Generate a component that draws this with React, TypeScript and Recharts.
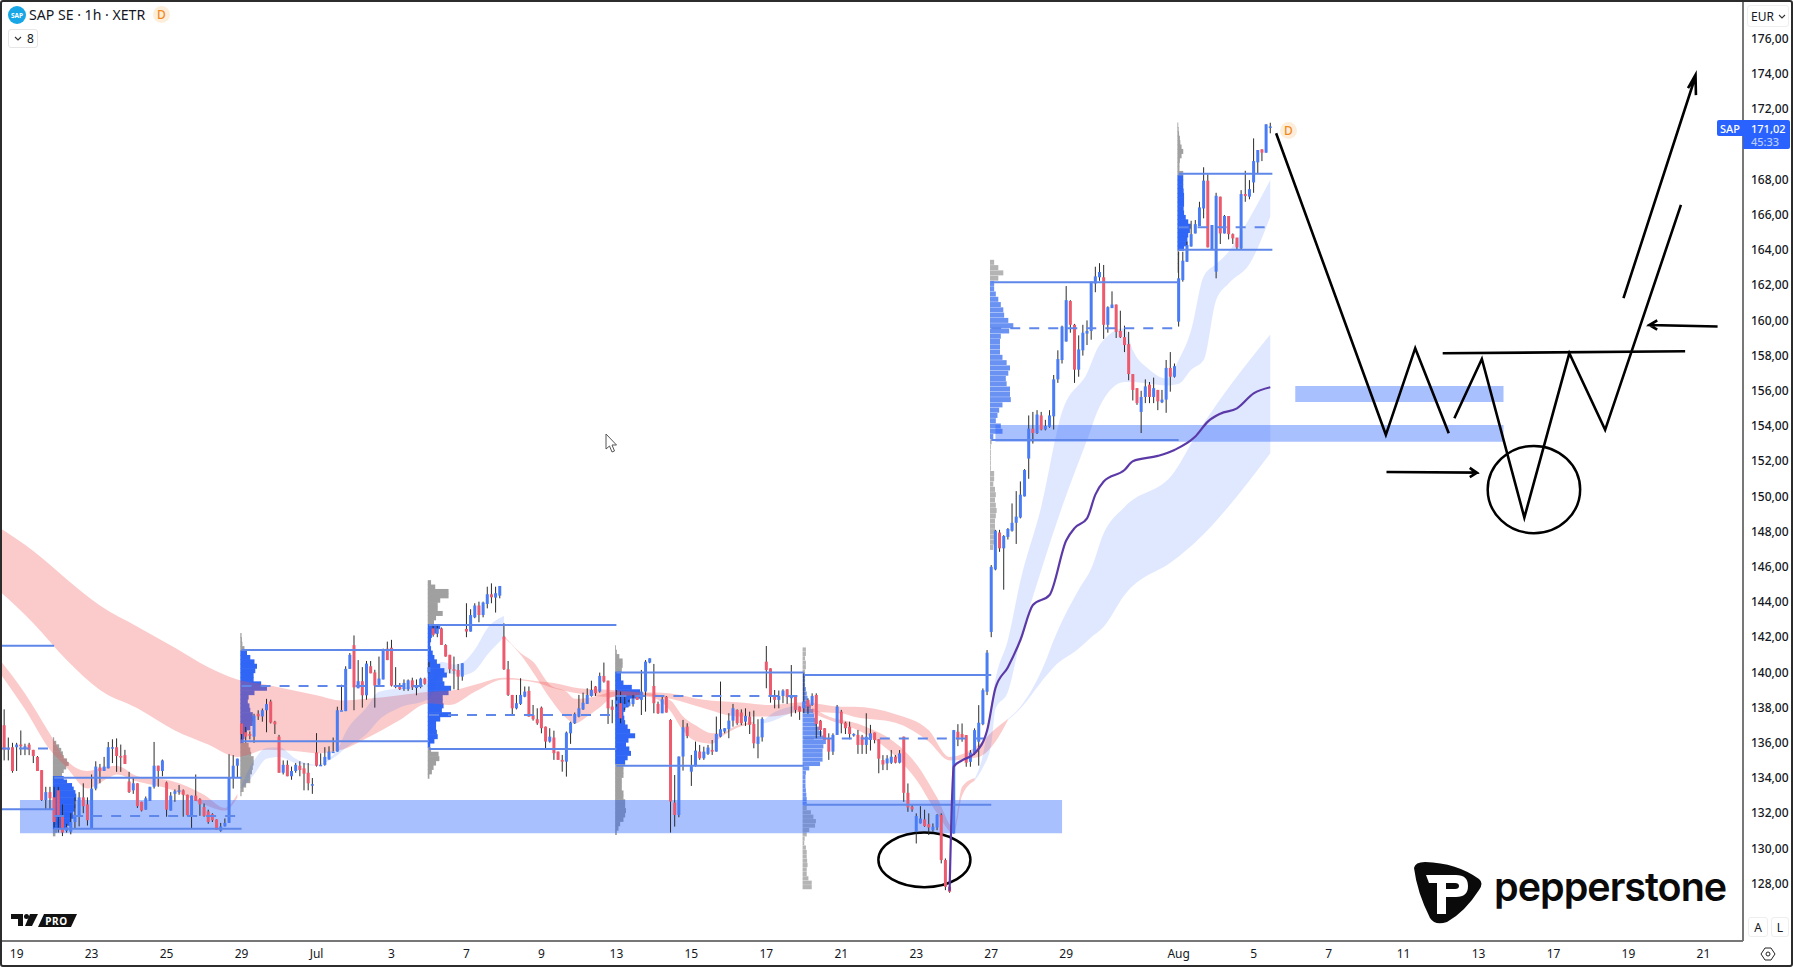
import { Area, Bar, ComposedChart, Line, ReferenceArea, ReferenceLine, XAxis, YAxis } from 'recharts'

type Ohlc = [number, number, number, number]

// open, high, low, close per hourly bar, one list per trading week
const preBars: Ohlc[] = [
  [137, 137.9, 135, 135.6], [135.7, 136.3, 135, 135.7], [135.75, 136, 134.3, 134.4], [135.75, 136, 134.4, 135.9],
  [135.9, 136.7, 135.3, 135.8], [135.7, 135.95, 135.3, 135.8], [135.9, 136, 135.3, 135.6], [135.6, 135.6, 134.85, 135.25],
  [135.2, 135.25, 134.4, 134.4], [134.45, 134.45, 132.7, 132.75], [132.75, 133.5, 132.2, 133.2], [133.2, 133.5, 132.2, 132.85],
]
const week1Bars: Ohlc[] = [
  [132.9, 133.5, 131.2, 131.5], [133.3, 133.5, 130.9, 131.8], [131.8, 132.5, 130.7, 130.9], [131, 131.4, 130.9, 131.2],
  [130.95, 132, 130.8, 131.5], [131.5, 132.9, 131.15, 131.8], [131.8, 133.2, 131.25, 132.9], [132.9, 133.7, 132, 132.4],
  [132.5, 132.9, 131.3, 131.6], [131.15, 134.2, 131.15, 133.4], [133.4, 134.95, 133.3, 134.65], [134.6, 134.8, 133.7, 134.4],
  [134.4, 135.2, 134.4, 134.65], [134.55, 136.05, 134.55, 135.75], [135.75, 136.2, 134.85, 135.75], [135.75, 136.25, 134.35, 135.25],
  [135.25, 135.9, 134.35, 135.2], [135.3, 135.6, 134.8, 134.8], [133.8, 134.35, 133.15, 133.2], [133.3, 134, 133.1, 133.7],
  [133.7, 133.7, 132.3, 132.4], [132.65, 132.65, 132.1, 132.15], [132.2, 132.95, 132.2, 132.85], [132.7, 133.5, 132.7, 133.5],
  [133.5, 136.05, 133.4, 134.7], [134.7, 134.7, 133.5, 134.4], [134.4, 135.05, 134.1, 135], [133.75, 133.8, 131.8, 132.2],
  [132.15, 133.2, 132.15, 133], [133.1, 133.35, 132.65, 133.25], [133.3, 133.6, 133.05, 133.3], [133.3, 133.35, 131.8, 133.05],
  [133.05, 133.05, 131.85, 131.9], [131.9, 133, 131.15, 133], [133, 134.2, 132.7, 132.7], [132.8, 132.85, 131.85, 132.5],
  [132.35, 132.55, 131.8, 131.85], [132.1, 132.2, 131.4, 131.5], [131.95, 132, 131.5, 131.6], [131.65, 131.65, 131.05, 131.05],
  [131, 131.45, 130.95, 131.25], [131.25, 131.7, 131.25, 131.45], [131.45, 135.35, 131.45, 134.05], [134.05, 135.3, 133.4, 134.7],
  [134.7, 135.1, 134, 135.1],
]
const week2Bars: Ohlc[] = [
  [137.1, 137.1, 136.2, 136.5], [136.6, 136.9, 136, 136.35], [136.5, 136.65, 136.2, 136.4], [136.35, 137.65, 136, 137.55],
  [137.65, 137.85, 137.3, 137.5], [137.5, 137.95, 137.2, 137.85], [137.85, 138.5, 136.6, 138.2], [138.35, 138.45, 137.1, 137.15],
  [137.2, 137.25, 136.5, 137.05], [136.35, 136.45, 134.3, 134.3], [134.3, 135, 134.2, 134.75], [134.75, 135, 134.1, 134.1],
  [134.1, 134.65, 133.9, 134.4], [134.4, 134.85, 134.3, 134.75], [134.7, 134.95, 134.1, 134.45], [134.55, 134.85, 133.3, 134.25],
  [134.3, 134.85, 133.3, 133.7], [133.65, 134, 133.1, 133.65], [135.45, 136.55, 134.65, 134.7], [134.7, 135.4, 134.7, 134.75],
  [134.75, 135.75, 134.7, 135.2], [135.05, 135.8, 135.05, 135.5], [135.5, 136.3, 135.5, 135.5], [135.5, 138.05, 135.5, 137.85],
  [137.85, 139.3, 137.85, 137.85], [137.8, 140.35, 137.8, 140.2], [140.2, 141.1, 140.2, 141], [141.55, 142.1, 137.85, 139.15],
  [139.1, 140.7, 139.1, 139.5], [139.5, 140.3, 138, 138.7], [138.7, 140.65, 138.45, 140.5], [140.35, 140.65, 139.95, 139.95],
  [140, 140.15, 138, 139.25], [139.3, 140.9, 139.25, 139.65], [139.6, 141.35, 139.6, 141.3], [141.35, 141.75, 140.7, 140.7],
  [141.4, 141.85, 139.2, 139.25], [139.25, 140.3, 139.1, 139.2], [139.25, 139.4, 139, 139.05], [139.05, 139.6, 138.95, 139.4],
  [139.05, 139.6, 138.95, 139.55], [139.55, 139.7, 139, 139.15], [139.15, 139.6, 138.7, 139.2], [139.2, 139.7, 139.1, 139.65],
  [139.65, 139.7, 139.3, 139.35],
]
const week3Bars: Ohlc[] = [
  [140, 140.6, 139.95, 140.3], [142.5, 142.7, 142.03, 142.13], [142.2, 142.7, 142, 142.5], [142.5, 142.55, 141.56, 141.56],
  [141.56, 141.6, 140.9, 140.9], [141, 141, 139.95, 140.18], [140.18, 140.9, 139.04, 140.14], [140.14, 140.48, 139, 139.76],
  [139.76, 140.52, 139.53, 140.52], [142.47, 143.93, 142, 142.32], [142.32, 143.59, 142.32, 143.26], [143.13, 143.93, 143.08, 143.8],
  [143.8, 144.02, 142.85, 143.26], [143.26, 144.02, 143.13, 143.97], [143.89, 144.87, 143.64, 144.44], [144.44, 145.06, 143.93, 144.27],
  [144.25, 144.87, 143.4, 144.5], [144.36, 144.91, 144.21, 144.91], [142.03, 142.79, 140.14, 140.18], [140.18, 140.65, 138.66, 138.72],
  [138.72, 138.72, 137.58, 137.96], [137.96, 138.72, 137.9, 138.25], [138.21, 139.67, 138.15, 138.72], [138.62, 139.2, 138.59, 138.91],
  [138.95, 139.2, 137.49, 137.49], [137.58, 138.15, 137.26, 137.34], [137.34, 137.96, 137.02, 137.11], [138, 138.06, 136.54, 136.83],
  [136.92, 136.92, 135.63, 136.07], [136.07, 136.83, 136.01, 136.35], [136.3, 136.69, 135.03, 135.41], [135.5, 135.5, 135.03, 135.03],
  [135.03, 135.31, 134.36, 134.93], [134.93, 136.64, 134.08, 136.58], [136.54, 137.2, 135.94, 137.15], [137.11, 137.72, 137.07, 137.64],
  [137.49, 138.72, 137.45, 137.96], [137.9, 138.85, 137.87, 138.28], [138.21, 139.1, 138.21, 138.72], [138.66, 139.53, 138.62, 139],
  [139.2, 139.23, 138.66, 138.82], [138.91, 139.99, 138.85, 139.8], [139.8, 140.56, 139.42, 139.48], [139.53, 139.53, 137.07, 137.96],
  [138.06, 138.44, 137.11, 137.87],
]
const week4Bars: Ohlc[] = [
  [138.2, 139, 138.06, 138.4], [138.25, 138.91, 137.11, 137.39], [138, 138.62, 137.87, 138.2], [138.1, 138.44, 138.06, 138.3],
  [138.2, 138.72, 138.06, 138.5], [138.72, 138.72, 138.44, 138.44], [138.44, 140.14, 137.58, 138.91], [138.91, 140.7, 137.77, 140.61],
  [140.56, 140.8, 140.52, 140.8], [139.23, 140.48, 137.68, 138.25], [138.21, 138.34, 137.64, 137.68], [137.68, 138.62, 137.68, 138.47],
  [138.62, 138.66, 137.72, 137.72], [137.3, 137.34, 130.9, 132.66], [132.6, 134.17, 131.24, 131.9], [131.9, 135.22, 131.77, 135.22],
  [135.22, 137.3, 134.42, 136.88], [136.92, 137.11, 136.26, 136.39], [134.36, 135.31, 133.55, 134.69], [134.69, 136.07, 134.65, 135.56],
  [135.5, 135.88, 135.03, 135.12], [135.12, 135.78, 135.03, 135.5], [135.37, 135.88, 135.31, 135.73], [135.6, 136.16, 135.31, 135.5],
  [135.5, 137.49, 135.5, 136.5], [136.35, 139.48, 136.31, 136.77], [136.64, 136.83, 136.54, 136.83], [136.77, 137.68, 136.26, 137.26],
  [137.26, 138.21, 136.92, 137.96], [137.87, 137.9, 137.02, 137.11], [137.72, 137.9, 137, 137.11], [137.2, 137.96, 136.96, 137.53],
  [137.49, 137.77, 136.5, 137.02], [137.07, 137.83, 135.69, 135.97], [135.94, 137.34, 135.12, 136.35], [136.31, 137.45, 136.07, 137.36],
  [140.61, 141.5, 139.1, 140.14], [140.23, 140.23, 138.28, 138.72], [138.72, 139, 137.96, 138.44], [138.44, 138.97, 137.96, 138.66],
  [138.66, 139.04, 138.25, 138.97], [139.04, 139.04, 138.21, 138.59], [138.59, 140.42, 137.49, 138.62], [138.62, 138.62, 137.68, 137.87],
  [138.06, 138.06, 137.3, 137.77],
]
const week5Bars: Ohlc[] = [
  [137.96, 139.99, 137.68, 138.34], [138.44, 138.53, 137.64, 138.06], [138.15, 138.81, 138.1, 138.66], [138.72, 138.81, 136.26, 137.07],
  [137.26, 137.3, 136.35, 136.73], [136.83, 136.83, 136.16, 136.16], [136.26, 136.54, 135.03, 135.5], [135.5, 136.54, 135.31, 136.45],
  [136.45, 138.15, 136.45, 138.06], [137.77, 137.87, 136.54, 137.11], [137.15, 137.2, 136.5, 136.83], [136.92, 137.2, 136.2, 136.5],
  [136.45, 136.54, 136.35, 136.5], [136.45, 136.73, 135.37, 135.88], [136.35, 136.45, 135.37, 135.88], [135.88, 137.68, 135.37, 136.35],
  [136.16, 137.02, 135.56, 136.54], [136.58, 136.58, 135.97, 136.16], [136.2, 136.2, 134.27, 135.1], [135.02, 135.3, 134.45, 134.77],
  [134.83, 135.3, 134.45, 135.11], [134.87, 135.59, 134.8, 135.21], [135.21, 135.3, 134.83, 134.87], [134.87, 135.59, 134.83, 135.4],
  [136.35, 136.35, 132.65, 133.16], [133.16, 133.69, 132.08, 132.33], [132.37, 132.52, 132.08, 132.22], [130.95, 131.99, 130.28, 131.84],
  [131.42, 132.4, 131.42, 131.7], [131.65, 132.2, 131.23, 131.27], [131.38, 131.99, 130.76, 131.19], [131.04, 131.42, 130.95, 131.23],
  [131.19, 131.95, 131.04, 131.9], [131.9, 131.99, 129.15, 129.34], [129.34, 129.43, 127.63, 127.82], [127.82, 127.92, 127.48, 127.54],
  [130.85, 136.73, 130.85, 136.72], [136.63, 137.06, 135.81, 136.19], [136.5, 137.1, 136.06, 136.3], [136.44, 136.44, 134.64, 134.87],
  [134.92, 135.59, 134.64, 135.44], [135.4, 136.82, 135.3, 136.72], [136.06, 138.14, 134.7, 137.14], [137.06, 139.09, 137, 138.99],
  [138.9, 141.27, 138.71, 141.12],
]
const week6Bars: Ohlc[] = [
  [142.3, 146.1, 142, 146], [145.85, 148.1, 145.8, 148.05], [147.95, 148.1, 146.85, 147.05], [147.05, 147.8, 144.7, 147.75],
  [147.7, 148.2, 147.55, 148.15], [148.05, 149.6, 148, 148.5], [148.5, 150.3, 147.3, 148.85], [148.8, 150.85, 148.75, 150.1],
  [150, 151.55, 150, 151.5], [152.15, 154.6, 151, 153.85], [153.85, 154.8, 153, 153.6], [153.6, 154.9, 153.55, 154.65],
  [154.6, 154.8, 153.75, 153.8], [153.8, 154.35, 153.75, 154], [153.95, 154.9, 153.9, 154.6], [154.55, 156.9, 153.8, 156.65],
  [156.65, 158.3, 156.45, 157.8], [157.75, 159.7, 157.55, 159.65], [158.8, 161.95, 158.8, 161.15], [161.1, 161.15, 159.3, 159.75],
  [159.75, 159.8, 156.45, 157.2], [157.2, 159.15, 156.8, 158.35], [158.3, 159.75, 158, 159.3], [159.25, 160, 158.6, 159.4],
  [159.4, 162.2, 158.9, 162.2], [162.1, 163.05, 161.6, 162.5], [162.45, 163.25, 162.25, 162.75], [162.45, 163.15, 158.95, 159.75],
  [159.75, 160.8, 159.3, 160.75], [160.7, 161.65, 160.7, 160.9], [160.9, 160.9, 159, 159.35], [159.4, 160.55, 159, 159.05],
  [159.05, 159.7, 158.2, 158.6], [158.65, 159.35, 156.6, 156.95], [156.95, 156.95, 155.45, 156.05], [156.15, 156.15, 155.2, 155.3],
  [154.8, 156, 153.6, 155.65], [155.65, 156.65, 155.3, 156.25], [156.35, 156.5, 155.3, 155.65], [155.65, 156.75, 155.3, 156.15],
  [156.05, 156.05, 154.9, 155.4], [155.35, 156.05, 155.3, 155.5], [155.5, 157.75, 154.75, 157.3], [157.3, 158.2, 155.95, 156.8],
  [156.8, 157.55, 156.75, 157.4],
]
const week7Bars: Ohlc[] = [
  [159.93, 163.9, 159.65, 162.39], [162.29, 163.9, 162.2, 163.39], [163.33, 164.47, 163.33, 164.28], [164.2, 165.66, 164.19, 164.9],
  [164.94, 165.7, 164.94, 165.47], [165.36, 166.74, 165.36, 166.42], [166.36, 168.7, 165.8, 167.94], [167.94, 168.3, 164.15, 164.15],
  [164, 165.42, 164, 165.42], [162.77, 167.25, 162.39, 167.08], [167.03, 167.03, 164.34, 164.94], [164.94, 165.99, 164.94, 165.93],
  [165.93, 165.93, 164.6, 164.9], [164.9, 164.94, 164.34, 164.66], [164.7, 164.7, 164.04, 164.15], [164.09, 167.4, 164.05, 167.18],
  [167.18, 168.5, 166.74, 167.07], [167.03, 167.97, 166.88, 167.46], [167.84, 170.34, 167.25, 169.05], [168.98, 169.68, 168.32, 169.68],
  [169.72, 169.72, 169.05, 169.53], [169.53, 171.14, 169.53, 171.14], [171.02, 171.23, 170.63, 171.02],
]

// moving-average ribbons: [bar, lower edge, upper edge]
type RibbonPoint = [number, number, number]
const slowRed: RibbonPoint[] = [
  [-1, 144.6, 148.2], [7, 142.8, 146.9], [15, 140.7, 145.3], [23, 139, 143.8], [32, 137.96, 142.6], [41, 136.7, 141.4], [49, 135.9, 140.3],
  [56, 135.2, 139.6], [63, 135.6, 139.3], [71, 135.5, 138.9], [75, 135.4, 138.7], [81, 135.6, 138.4], [87, 136.26, 138.5], [95, 137.3, 138.7],
  [102, 138.25, 138.9], [107, 138.15, 138.96], [113, 138.9, 139.3], [120, 139.6, 139.7], [128, 139.4, 139.5], [132, 139.1, 139.4], [138, 138.8, 139.1],
  [146, 138.6, 139], [152, 138.7, 138.9], [160, 138.5, 138.8], [168, 137.96, 138.44], [176, 137.5, 138.3], [184, 137.5, 138.15], [192, 137.77, 138.3],
  [201, 137.68, 138.05], [204, 137.48, 138.05], [214, 137.14, 137.63], [222, 136.06, 136.72], [227, 135, 135.2], [234, 135.2, 135.9], [238, 136.06, 136.8], [241, 137.3, 137.35],
]
const slowBlue: RibbonPoint[] = [
  [241, 137.3, 137.35], [244, 137.95, 138.05], [250, 139.75, 140.6], [252, 140.3, 141.84], [258, 141.36, 144.7], [261, 142, 145.9], [264, 142.6, 147.9],
  [269, 144.4, 149.4], [281, 146.4, 151.4], [286, 147.4, 153.4], [304, 152.45, 159.2],
]
const fastRed1: RibbonPoint[] = [
  [-1, 139.95, 140.7], [5, 137.9, 138.8], [11, 135.6, 136.5], [15, 134.6, 135], [20, 133.4, 134.4], [25, 134, 134.65], [27, 134.2, 134.7],
  [32, 133.8, 134.1], [40, 133.35, 133.85], [48, 132.5, 133.05], [53, 132.15, 132.3], [56, 132.9, 133.1],
]
const fastBlue1: RibbonPoint[] = [
  [57, 133.4, 133.6], [60, 134.2, 135], [63, 135.1, 135.7], [66, 135.2, 135.75], [70, 134.85, 135.1], [75, 134.7, 134.75], [78, 135, 135.1], [80, 135.3, 135.6],
  [82, 135.7, 136.6], [87, 136.5, 138], [90, 137.3, 138.9], [95, 138, 139.1], [102, 138.5, 139.4], [105, 140, 140.6], [108, 139.9, 140.45], [110, 139.85, 140.55],
  [113, 140.1, 141.3], [116, 141, 142.5], [120, 142, 143.2],
]
const fastRed2: RibbonPoint[] = [
  [120, 142, 142.1], [124, 141, 141.1], [127, 140, 140.6], [131, 138.55, 139.3], [135, 137.4, 138.9], [137, 137.1, 138.5], [140, 137.5, 138.55], [143, 138, 138.7],
  [146, 138.6, 138.9], [148, 138.7, 138.9], [155, 138.6, 138.8], [160, 137.8, 138.4], [163, 136.7, 137.5], [166, 136.1, 137], [170, 135.95, 136.55], [172, 136.3, 136.55],
  [176, 136.85, 137], [180, 137.1, 137.2],
]
const fastBlue2: RibbonPoint[] = [[182, 137.1, 137.2], [184, 137.2, 137.6], [188, 137.6, 138], [191, 137.9, 138.15]]
const fastRed3: RibbonPoint[] = [
  [194, 137.7, 138], [197, 137.4, 137.6], [206, 136.6, 137], [215, 135, 135.8], [219, 133.9, 134.8], [224, 132, 132.9], [228, 130.85, 131.2], [230, 133, 133.5], [233, 133.85, 134],
]
const fastBlue3: RibbonPoint[] = [
  [233, 133.85, 133.95], [235, 134.6, 135.3], [237, 135.9, 138.2], [238, 137.9, 139.6], [241, 138.9, 141.84], [244, 141.84, 145.2], [249, 145.8, 149.4], [254, 149.4, 154.8],
  [260, 153.2, 157], [263, 155.1, 158.6], [269, 156.5, 159.55], [271, 156.5, 158.3], [275, 156.4, 157.2], [279, 156.3, 156.7], [282, 156.4, 157.75], [285, 157.2, 159.45],
  [288, 157.75, 162.5], [291, 161.16, 163.2], [294, 162.1, 163.9], [299, 163.2, 165.8], [304, 165.9, 167.97],
]
const ribbons = [
  { key: 'slowRed', fill: '#ef5350', points: slowRed },
  { key: 'slowBlue', fill: '#2962ff', points: slowBlue },
  { key: 'fastRed1', fill: '#ef5350', points: fastRed1 },
  { key: 'fastBlue1', fill: '#2962ff', points: fastBlue1 },
  { key: 'fastRed2', fill: '#ef5350', points: fastRed2 },
  { key: 'fastBlue2', fill: '#2962ff', points: fastBlue2 },
  { key: 'fastRed3', fill: '#ef5350', points: fastRed3 },
  { key: 'fastBlue3', fill: '#2962ff', points: fastBlue3 },
]

// purple moving average: [bar, price]
const maLine: [number, number][] = [
  [227, 127.6], [228, 134.65], [230, 135], [233, 135.4], [236, 136.7], [238, 139.1], [241, 140.3], [244, 141.84], [247, 143.83], [251, 144.4], [255, 147.5], [257, 148.2],
  [260, 148.75], [262, 150.1], [264, 150.85], [269, 151.5], [271, 152], [277, 152.3], [281, 152.64], [286, 153.4], [289, 154.25], [292, 154.7], [296, 155], [300, 155.85], [304, 156.2],
]

// volume profile per session: rows run downward from top in fixed price steps, value is row length in bars
const profiles = [
  { start: 12, top: 136.2, step: 0.2, vah: 134.02, val: 131.12, rowPx: 4, blue: '#2f66f5', gray: '#a0a0a0', rows: [0.3, 0.8, 1.5, 2, 2.4, 2.6, 3.4, 3.8, 3.2, 2.6, 2.2, 2.6, 3.4, 4.6, 5, 5.4, 5.6, 5.6, 5.2, 5.4, 5.2, 4.8, 5, 4.4, 4.2, 3.2, 1, 0.6] },
  { start: 57, top: 142.1, step: 0.25, vah: 141.28, val: 136.09, rowPx: 5, blue: '#2f66f5', gray: '#a0a0a0', rows: [0.3, 0.4, 0.5, 1, 1.6, 2.4, 3.4, 4, 3.6, 3.2, 3.2, 5, 6.4, 3.4, 2, 1.8, 2.2, 2.4, 3, 3.4, 3, 2.4, 1.6, 1, 0.8, 2, 2.4, 2.6, 3.2, 3.2, 3, 2.8, 2.4, 2.4, 1.4, 0.8, 0.3] },
  { start: 102, top: 145.1, step: 0.25, vah: 142.7, val: 135.65, rowPx: 5, blue: '#2f66f5', gray: '#a0a0a0', rows: [0.8, 1.8, 5, 5, 3, 2.4, 2.4, 3.6, 2, 1.5, 3, 2.4, 1, 0.8, 0.6, 0.8, 1.2, 1.6, 2.2, 3, 4, 4.6, 3.6, 4, 5.6, 5, 3.6, 3.6, 3.8, 3.4, 5.6, 3, 2, 2, 2.2, 2.4, 1.6, 0.6, 0.8, 2.6, 2.8, 2, 1.4, 1, 0.4] },
  { start: 147, top: 141.4, step: 0.25, vah: 139.99, val: 134.7, rowPx: 5, blue: '#2f66f5', gray: '#a0a0a0', rows: [0.2, 0.4, 1, 1.8, 1.8, 1.6, 1.4, 1.4, 2, 4, 6, 6, 3.6, 3.2, 2.4, 2, 2.2, 2.4, 3, 3.6, 4.8, 3.2, 2.6, 3.4, 3.8, 3, 2.4, 2, 2, 2, 1.6, 1.6, 1.6, 2, 2, 2.4, 2.4, 2.6, 2.4, 2, 1.2, 0.8, 0.4] },
  { start: 192, top: 141.3, step: 0.25, vah: 139.86, val: 132.48, rowPx: 4.2, blue: '#6a92f3', gray: '#b4b4b4', rows: [0.8, 0.8, 0.6, 0.8, 0.8, 0.6, 0.6, 0.6, 0.6, 0.8, 1, 1.2, 1.6, 2, 2.6, 2.8, 3, 3.4, 4, 4.6, 5.4, 5.6, 5, 4.8, 4.8, 4.8, 4.2, 1.6, 0.8, 0.7, 0.7, 0.7, 0.8, 0.9, 1, 1, 1, 2, 2.6, 3.2, 3, 1.6, 1, 0.5, 0.4, 0.8, 1, 1, 1.1, 1.2, 1, 1, 1.4, 2.2, 2.2] },
  { start: 237, top: 163.3, step: 0.3, vah: 162.17, val: 153.2, rowPx: 5, blue: '#6a92f3', gray: '#b4b4b4', rows: [1, 2, 3.2, 2, 1, 1, 1.4, 2, 2.6, 3.2, 3.4, 4.4, 5.6, 4.6, 2.6, 2.4, 2.4, 2.4, 3, 4, 4.8, 4.4, 3.8, 4, 4.8, 4.8, 5, 3, 2.2, 1.8, 1.4, 2.6, 3, 0.8, 0.4, 0.2, 0.2, 0.2, 0.2, 0.2, 1, 1, 0.8, 1.2, 1.4, 1.2, 1.4, 1.6, 1.4, 1.2, 1.2, 1.2, 1.4, 1, 0.8] },
  { start: 282, top: 171.1, step: 0.25, vah: 168.33, val: 164.02, rowPx: 5, blue: '#2f66f5', gray: '#a0a0a0', rows: [0.2, 0.3, 0.4, 0.6, 0.7, 1, 1.4, 1, 0.6, 0.5, 0.5, 1.4, 1.4, 1.4, 1.4, 1.5, 1.6, 1.6, 1.6, 1.5, 1.6, 2, 2.6, 3.2, 3, 2.6, 2.4, 2.4, 1.6, 0.4, 0.3, 0.3, 0.3, 0.3] },
]

// value-area high, point of control, value-area low for each session: [from bar, to bar, vah, poc, val]
const sessionLevels: [number, number, number, number, number][] = [
  [-1, 12, 141.52, 135.67, 132.22],
  [12, 57, 134.02, 131.84, 131.12],
  [57, 102, 141.28, 139.23, 136.09],
  [102, 147, 142.7, 137.58, 135.65],
  [147, 192, 139.99, 138.66, 134.7],
  [192, 237, 139.86, 136.25, 132.48],
  [237, 282, 162.17, 159.55, 153.2],
  [282, 304.5, 168.33, 165.29, 164.02],
]

// supply and demand zones: [from bar, to bar, low, high]
const zones: [number, number, number, number][] = [
  [3.8, 254, 130.86, 132.75],
  [238, 360, 153.1, 154.06],
  [310, 360, 155.36, 156.27],
]

// hand-drawn projection, each list is one pen stroke of [bar, price]
const penStrokes: [number, number][][] = [
  [[305.4, 170.63], [331.75, 153.5], [338.8, 158.42], [346.85, 153.59]],
  [[348.2, 154.44], [354.8, 157.81], [365, 148.8], [375.8, 158.13], [384.4, 153.78], [402.6, 166.56]],
  [[345.4, 158.13], [403.6, 158.25]],
  [[388.8, 161.26], [406, 173.8], [404.3, 173.2], [406.1, 173.95], [406.2, 172.8]],
  [[331.9, 151.39], [353.4, 151.35], [351.9, 151.62], [353.6, 151.35], [351.9, 151.1]],
  [[411.4, 159.65], [395.2, 159.74], [396.9, 160], [395, 159.74], [396.9, 159.47]],
]
// circled areas: [from bar, to bar, low, high]
const ellipses: [number, number, number, number][] = [
  [209.9, 232, 127.8, 130.9],
  [356.2, 378.4, 147.91, 152.87],
]

const priceTicks = [128, 130, 132, 134, 136, 138, 140, 142, 144, 146, 148, 150, 152, 154, 156, 158, 160, 162, 164, 166, 168, 172, 174, 176]
const dateTicks: [number, string][] = [
  [3, '19'], [21, '23'], [39, '25'], [57, '29'], [75, 'Jul'], [93, '3'], [111, '7'], [129, '9'], [147, '13'], [165, '15'], [183, '17'], [201, '21'], [219, '23'], [237, '27'],
  [255, '29'], [282, 'Aug'], [300, '5'], [318, '7'], [336, '11'], [354, '13'], [372, '17'], [390, '19'], [408, '21'],
]

const BLUE = '#2962ff'
const UP = '#4a7cf4'
const DOWN = '#ec5a6d'
const LEVEL = '#5f87ea'
const FONT = '"Noto Sans", sans-serif'

const chartData = [...preBars, ...week1Bars, ...week2Bars, ...week3Bars, ...week4Bars, ...week5Bars, ...week6Bars, ...week7Bars].map(
  ([o, h, l, c], i) => ({ i, o, h, l, c, range: [l, h] }),
)

function Candle(props: any) {
  const { x, y, width, height, payload } = props
  const { o, h, l, c } = payload
  const k = height / (h - l)
  const top = y + (h - Math.max(o, c)) * k
  const bodyH = Math.max(Math.abs(o - c) * k, 1.5)
  const cx = x + width / 2
  return (
    <g>
      <line x1={cx} x2={cx} y1={y} y2={y + height} stroke="#2b2b2b" strokeWidth={1} />
      <rect x={cx - 1.5} y={top} width={3} height={bodyH} fill={c >= o ? UP : DOWN} />
    </g>
  )
}

function Oval(props: any) {
  const { x, y, width, height } = props
  return <ellipse cx={x + width / 2} cy={y + height / 2} rx={width / 2} ry={height / 2} fill="none" stroke="#000" strokeWidth={2.5} />
}

function Chevron({ left, top }: { left: number; top: number }) {
  return (
    <svg style={{ position: 'absolute', left, top, width: 8, height: 5 }} viewBox="0 0 8 5">
      <path d="M1 1l3 3 3-3" fill="none" stroke="#333" strokeWidth="1.1" />
    </svg>
  )
}

const label = { position: 'absolute', fontFamily: FONT, color: '#131722', lineHeight: 1 } as const

function Overlay() {
  return (
    <>
      <svg style={{ position: 'absolute', left: 8, top: 6, width: 18, height: 18 }} viewBox="0 0 18 18">
        <circle cx="9" cy="9" r="9" fill="#18a7e6" />
        <text x="9" y="11.500" fontSize="6.500" fontWeight="700" fill="#fff" textAnchor="middle" fontFamily={FONT}>SAP</text>
      </svg>
      <div style={{ ...label, left: 29, top: 8, fontSize: 14.1 }}>SAP SE · 1h · XETR</div>
      <div style={{ ...label, left: 153, top: 6, width: 17, height: 17, borderRadius: 9, background: '#fdeedb', color: '#f08a1d', fontSize: 12, fontWeight: 500, textAlign: 'center', paddingTop: 2.5, boxSizing: 'border-box' }}>D</div>
      <div style={{ ...label, left: 8, top: 29, width: 30, height: 19, border: '1px solid #e6e6e6', borderRadius: 3, fontSize: 12, boxSizing: 'border-box', paddingTop: 3, paddingLeft: 18 }}>8</div>
      <Chevron left={14} top={36} />
      <div style={{ ...label, left: 1280, top: 122, width: 17, height: 17, borderRadius: 9, background: '#fdeedb', color: '#f08a1d', fontSize: 12, fontWeight: 500, textAlign: 'center', paddingTop: 2.5, boxSizing: 'border-box' }}>D</div>
      <div style={{ ...label, left: 1747, top: 5, width: 42, height: 22, border: '1px solid #eee', borderRadius: 3, fontSize: 12, boxSizing: 'border-box', paddingTop: 5, paddingLeft: 3 }}>EUR</div>
      <Chevron left={1778} top={14} />
      <div style={{ ...label, left: 1717, top: 120, width: 26, height: 16, background: BLUE, color: '#fff', fontSize: 11, borderRadius: '2px 0 0 2px', textAlign: 'center', paddingTop: 2.5, boxSizing: 'border-box', fontWeight: 500 }}>SAP</div>
      <div style={{ ...label, left: 1743, top: 120, width: 47, height: 29, background: BLUE, color: '#fff', fontSize: 11, paddingTop: 2.5, paddingLeft: 8, boxSizing: 'border-box', fontWeight: 500, borderRadius: '0 2px 2px 0' }}>
        171,02<div style={{ color: '#b9ccff', marginTop: 2.5 }}>45:33</div>
      </div>
      <div style={{ ...label, left: 1748, top: 917, width: 20, height: 20, border: '1px solid #eee', borderRadius: 3, fontSize: 12, textAlign: 'center', paddingTop: 4, boxSizing: 'border-box' }}>A</div>
      <div style={{ ...label, left: 1771, top: 917, width: 18, height: 20, border: '1px solid #eee', borderRadius: 3, fontSize: 12, textAlign: 'center', paddingTop: 4, boxSizing: 'border-box' }}>L</div>
      <svg style={{ position: 'absolute', left: 1760, top: 946, width: 16, height: 16 }} viewBox="0 0 16 16">
        <path d="M5 2h6l4 6-4 6H5L1 8z" fill="none" stroke="#222" strokeWidth="1" />
        <circle cx="8" cy="8" r="2" fill="none" stroke="#222" strokeWidth="1" />
      </svg>
      <svg style={{ position: 'absolute', left: 604, top: 433, width: 14, height: 22 }} viewBox="0 0 14 22">
        <path d="M2 1v15l3.500-3 2.500 6 2.500-1-2.500-6h4.500z" fill="#fff" stroke="#555" strokeWidth="1" />
      </svg>
      <svg style={{ position: 'absolute', left: 11, top: 913, width: 66, height: 15 }} viewBox="0 0 66 15">
        <path d="M0 1h12v12H7V6H0z" fill="#111" />
        <circle cx="15.500" cy="3.500" r="2.500" fill="#111" />
        <path d="M19 1h8l-6 12h-7z" fill="#111" />
        <path d="M33 1h33l-6 13H27z" fill="#111" />
        <text x="45.500" y="11.500" fontSize="10" fontWeight="700" letterSpacing="0.6" fill="#fff" textAnchor="middle" fontFamily={FONT}>PRO</text>
      </svg>
      <svg style={{ position: 'absolute', left: 1413, top: 862, width: 70, height: 62 }} viewBox="0 0 70 62">
        <path d="M1 6Q2 0 12 0Q44 1 66 17Q71 21 66 28Q52 50 34 60Q22 64 17 56Q4 30 1 6z" fill="#0a0a0a" />
        <path d="M13 13h30q12 0 12 11t-12 11h-10v17h-9V21H16z M33 21v6h9q4 0 4-3t-4-3z" fill="#fff" fillRule="evenodd" />
      </svg>
      <div style={{ ...label, left: 1494, top: 862, fontFamily: 'Inter, sans-serif', fontSize: 39.5, fontWeight: 600, letterSpacing: -1, color: '#0a0a0a', lineHeight: '50px' }}>pepperstone</div>
      <div style={{ position: 'absolute', inset: 0, border: '2px solid #2c2c2c', borderRadius: 3, pointerEvents: 'none' }} />
    </>
  )
}

export default function App() {
  return (
    <div style={{ position: 'fixed', left: 0, top: 0, width: 1793, height: 967, background: '#fff', overflow: 'hidden' }}>
      <ComposedChart width={1793} height={967} data={chartData} margin={{ top: 2, right: 2, bottom: 2, left: 0 }}>
        <XAxis
          dataKey="i"
          type="number"
          domain={[-1, 417.5]}
          allowDataOverflow
          ticks={dateTicks.map((t) => t[0])}
          tickFormatter={(v: number) => dateTicks.find((t) => t[0] === v)?.[1] ?? ''}
          interval={0}
          height={24}
          tickLine={false}
          stroke="#777"
          strokeWidth={2}
          tick={{ fontSize: 12, fill: '#131722', fontFamily: FONT }}
        />
        <YAxis
          orientation="right"
          type="number"
          domain={[124.74, 178.09]}
          allowDataOverflow
          ticks={priceTicks}
          interval={0}
          width={48}
          tickLine={false}
          stroke="#777"
          strokeWidth={2}
          tickFormatter={(v: number) => v.toFixed(2).replace('.', ',')}
          tick={{ fontSize: 12, fill: '#131722', fontFamily: FONT, fontWeight: 500 }}
        />
        {profiles.flatMap((p) =>
          p.rows.map((len, r) => {
            const price = p.top - r * p.step
            const inValue = price <= p.vah && price >= p.val
            return (
              <ReferenceLine
                key={`${p.start}-${r}`}
                segment={[{ x: p.start - 0.3, y: price }, { x: p.start - 0.3 + len, y: price }]}
                stroke={inValue ? p.blue : p.gray}
                strokeWidth={p.rowPx}
                zIndex={50}
              />
            )
          }),
        )}
        {ribbons.map((r) => (
          <Area
            key={r.key}
            data={r.points.map(([i, lo, hi]) => ({ i, band: [lo, hi] }))}
            dataKey="band"
            type="monotone"
            stroke="none"
            fill={r.fill}
            fillOpacity={r.fill === BLUE ? 0.15 : 0.3}
            dot={false}
            activeDot={false}
            isAnimationActive={false}
          />
        ))}
        {sessionLevels.flatMap(([from, to, vah, poc, val]) => [
          <ReferenceLine key={`vah${from}`} segment={[{ x: from, y: vah }, { x: to, y: vah }]} stroke={LEVEL} strokeWidth={2} />,
          <ReferenceLine key={`poc${from}`} segment={[{ x: from, y: poc }, { x: to, y: poc }]} stroke={LEVEL} strokeWidth={2} strokeDasharray="10 9" />,
          <ReferenceLine key={`val${from}`} segment={[{ x: from, y: val }, { x: to, y: val }]} stroke={LEVEL} strokeWidth={2} />,
        ])}
        <Bar dataKey="range" barSize={3} shape={<Candle />} isAnimationActive={false} />
        <Line
          data={maLine.map(([i, ma]) => ({ i, ma }))}
          dataKey="ma"
          type="monotone"
          stroke="#5b3aa8"
          strokeWidth={2.2}
          dot={false}
          activeDot={false}
          isAnimationActive={false}
        />
        {zones.map(([x1, x2, y1, y2]) => (
          <ReferenceArea key={`${x1}-${y1}`} x1={x1} x2={x2} y1={y1} y2={y2} fill={BLUE} fillOpacity={0.4} stroke="none" />
        ))}
        {penStrokes.map((stroke, n) => (
          <Line
            key={n}
            data={stroke.map(([i, pen]) => ({ i, pen }))}
            dataKey="pen"
            type="linear"
            stroke="#000"
            strokeWidth={2.6}
            dot={false}
            activeDot={false}
            isAnimationActive={false}
          />
        ))}
        {ellipses.map(([x1, x2, y1, y2]) => (
          <ReferenceArea key={x1} x1={x1} x2={x2} y1={y1} y2={y2} shape={<Oval />} />
        ))}
      </ComposedChart>
      <Overlay />
    </div>
  )
}
